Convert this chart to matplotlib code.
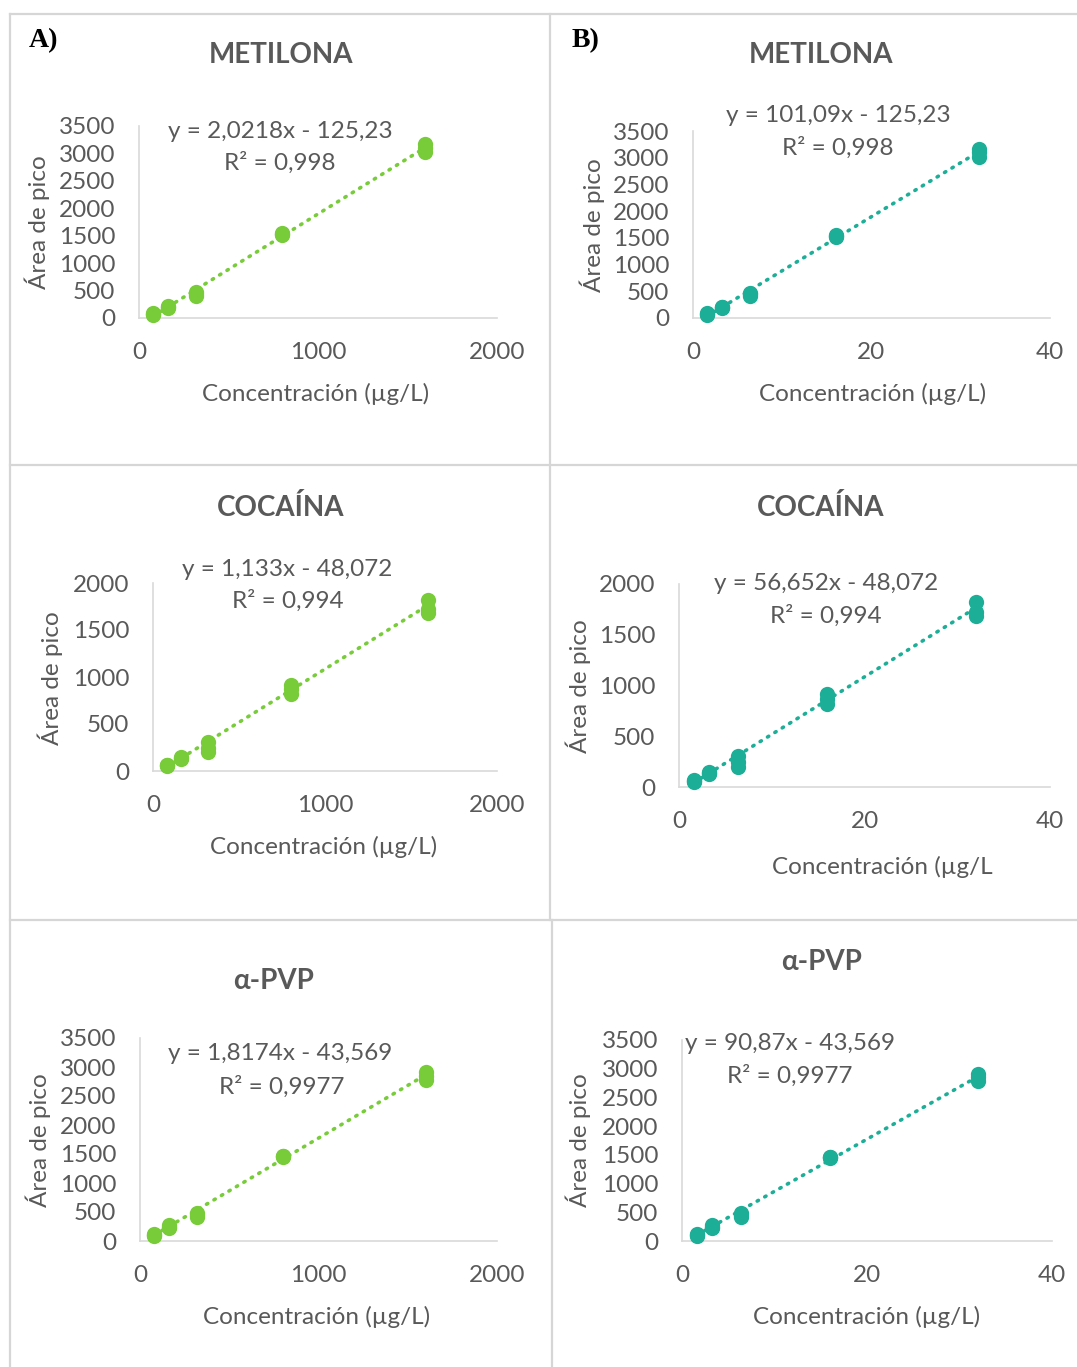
import matplotlib
matplotlib.use("Agg")
import matplotlib.pyplot as plt
from matplotlib.lines import Line2D
import numpy as np

plt.rcParams['font.family'] = ['Lato', 'DejaVu Sans']

W, H = 1077, 1367

# ---------------- data ----------------
conc_A = [80, 160, 320, 800, 1600]          # µg/L (panel A)
conc_B = [1.6, 3.2, 6.4, 16, 32]            # µg/L (panel B)

area_metilona = [[60, 75, 90], [180, 200, 215], [410, 440, 470],
                 [1520, 1530, 1545], [3020, 3100, 3170]]
area_cocaina = [[50, 60, 65], [125, 140, 150], [200, 250, 310],
                [820, 870, 920], [1680, 1720, 1820]]
area_apvp = [[80, 100, 120], [220, 250, 270], [410, 450, 490],
             [1440, 1460, 1470], [2780, 2850, 2910]]

slopes_A = [2.0218, 1.133, 1.8174]
slopes_B = [101.09, 56.652, 90.87]
intercepts = [-125.23, -48.072, -43.569]

eq_A = ["y = 2,0218x - 125,23", "y = 1,133x - 48,072", "y = 1,8174x - 43,569"]
eq_B = ["y = 101,09x - 125,23", "y = 56,652x - 48,072", "y = 90,87x - 43,569"]
r2_text = ["R² = 0,998", "R² = 0,994", "R² = 0,9977"]
titles = ["METILONA", "COCAÍNA", "α-PVP"]
y_max = [3500, 2000, 3500]
y_step = [500, 500, 500]
xlab_A = "Concentración (µg/L)"
xlab_B = ["Concentración (µg/L)", "Concentración (µg/L", "Concentración (µg/L)"]
ylab = "Área de pico"

GREEN = "#78CC3A"
TEAL = "#1DAE97"
TXT = "#595959"
AXC = "#D9D9D9"
FS = 17.5

fig = plt.figure(figsize=(W / 100, H / 100), dpi=100)

def fx(px):
    return px / W

def fy(py):
    return 1 - py / H

# panel borders
for (x0, y0, x1, y1) in [(10, 14, 1077, 14), (10, 14, 10, 1367), (550, 14, 550, 920),
                         (552, 920, 552, 1367), (10, 465, 1077, 465), (10, 920, 1077, 920)]:
    fig.add_artist(Line2D([fx(x0), fx(x1)], [fy(y0), fy(y1)], color="#D6D6D6", lw=1.6))

fig.text(fx(29), fy(41), "A)", family="Liberation Serif", weight="bold", fontsize=20,
         ha="left", va="center", color="black")
fig.text(fx(572), fy(41), "B)", family="Liberation Serif", weight="bold", fontsize=20,
         ha="left", va="center", color="black")

layouts_A = [
    dict(ax=(139, 497, 126, 318), title=(281, 55), eq=(280, 131), r2=(280, 163), yl=(37, 222), xl=(316, 394)),
    dict(ax=(153, 497, 583, 771), title=(281, 508), eq=(287, 569), r2=(288, 601), yl=(50, 678), xl=(324, 847)),
    dict(ax=(140, 497, 1038, 1241), title=(274, 981), eq=(280, 1054), r2=(282, 1087), yl=(38, 1140), xl=(317, 1317)),
]
layouts_B = [
    dict(ax=(693, 1050, 131, 318), title=(821, 55), eq=(838, 116), r2=(838, 148), yl=(592, 225), xl=(873, 394)),
    dict(ax=(679, 1050, 584, 787), title=(821, 508), eq=(826, 584), r2=(826, 616), yl=(578, 686), xl=(882, 867)),
    dict(ax=(682, 1052, 1040, 1241), title=(822, 962), eq=(790, 1044), r2=(790, 1076), yl=(578, 1140), xl=(867, 1317)),
]

areas = [area_metilona, area_cocaina, area_apvp]

def draw(lay, conc, area, slope, intercept, xmax, xticks, color, title, eq, r2, xlab, ymax, ystep):
    l, r, t, b = lay["ax"]
    ax = fig.add_axes([fx(l), fy(b), fx(r - l), (b - t) / H])
    ax.set_xlim(0, xmax)
    ax.set_ylim(0, ymax)
    for s in ["top", "right"]:
        ax.spines[s].set_visible(False)
    for s in ["left", "bottom"]:
        ax.spines[s].set_color(AXC)
        ax.spines[s].set_linewidth(1.2)
    ax.set_xticks(xticks)
    ax.set_yticks(np.arange(0, ymax + 1, ystep))
    ax.tick_params(length=0, labelsize=FS, labelcolor=TXT, pad=17)
    ax.patch.set_alpha(0)
    xs = [c for c, reps in zip(conc, area) for _ in reps]
    ys = [v for reps in area for v in reps]
    xl = np.array([min(conc), max(conc)])
    ax.plot(xl, slope * xl + intercept, color=color, lw=2.6, linestyle=(0, (0.4, 2.0)),
            dash_capstyle="round", clip_on=False, zorder=2)
    ax.plot(xs, ys, "o", color=color, ms=11, mec="none", clip_on=False, zorder=3)
    fig.text(fx(lay["title"][0]), fy(lay["title"][1]), title, fontsize=20, weight="bold",
             color=TXT, ha="center", va="center")
    fig.text(fx(lay["eq"][0]), fy(lay["eq"][1]), eq, fontsize=FS, color=TXT, ha="center", va="center")
    fig.text(fx(lay["r2"][0]), fy(lay["r2"][1]), r2, fontsize=FS, color=TXT, ha="center", va="center")
    fig.text(fx(lay["yl"][0]), fy(lay["yl"][1]), ylab, fontsize=FS, color=TXT, ha="center",
             va="center", rotation=90)
    fig.text(fx(lay["xl"][0]), fy(lay["xl"][1]), xlab, fontsize=FS, color=TXT, ha="center", va="center")

for i in range(3):
    draw(layouts_A[i], conc_A, areas[i], slopes_A[i], intercepts[i], 2000, [0, 1000, 2000],
         GREEN, titles[i], eq_A[i], r2_text[i], xlab_A, y_max[i], y_step[i])
    draw(layouts_B[i], conc_B, areas[i], slopes_B[i], intercepts[i], 40, [0, 20, 40],
         TEAL, titles[i], eq_B[i], r2_text[i], xlab_B[i], y_max[i], y_step[i])

fig.savefig("out.png", dpi=100, facecolor="white")
